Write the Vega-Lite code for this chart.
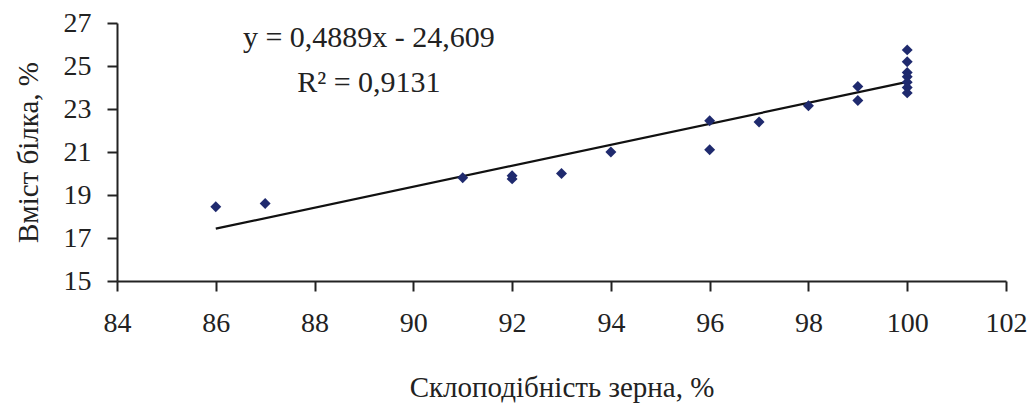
{
  "$schema": "https://vega.github.io/schema/vega-lite/v6.json",
  "autosize": "none",
  "width": 889,
  "height": 258,
  "padding": {"left": 117, "top": 23, "right": 26, "bottom": 124},
  "background": "white",
  "config": {
    "view": {"stroke": null},
    "font": "Liberation Serif",
    "axis": {
      "grid": false,
      "domainColor": "#222222",
      "domainWidth": 2,
      "tickColor": "#222222",
      "tickWidth": 2,
      "tickSize": 10,
      "labelFont": "Liberation Serif",
      "labelFontSize": 28,
      "labelColor": "#222222",
      "labelFlush": false,
      "titleFont": "Liberation Serif",
      "titleFontSize": 29,
      "titleFontWeight": "normal",
      "titleColor": "#222222"
    }
  },
  "datasets": {
    "points": [
      {"vitreous": 86, "protein": 18.45},
      {"vitreous": 87, "protein": 18.6},
      {"vitreous": 91, "protein": 19.8},
      {"vitreous": 92, "protein": 19.9},
      {"vitreous": 92, "protein": 19.75},
      {"vitreous": 93, "protein": 20.0},
      {"vitreous": 94, "protein": 21.0},
      {"vitreous": 96, "protein": 22.45},
      {"vitreous": 96, "protein": 21.1},
      {"vitreous": 97, "protein": 22.4},
      {"vitreous": 98, "protein": 23.15},
      {"vitreous": 99, "protein": 24.05},
      {"vitreous": 99, "protein": 23.4},
      {"vitreous": 100, "protein": 25.75},
      {"vitreous": 100, "protein": 25.2},
      {"vitreous": 100, "protein": 24.7},
      {"vitreous": 100, "protein": 24.5},
      {"vitreous": 100, "protein": 24.25},
      {"vitreous": 100, "protein": 24.0},
      {"vitreous": 100, "protein": 23.75}
    ],
    "labels": [
      {"x": 89.1, "y": 26.3, "text": "y = 0,4889x - 24,609"},
      {"x": 89.1, "y": 24.2, "text": "R² = 0,9131"}
    ]
  },
  "layer": [
    {
      "data": {"name": "points"},
      "transform": [{"regression": "protein", "on": "vitreous", "extent": [86, 100]}],
      "mark": {"type": "line", "color": "#111111", "strokeWidth": 2.2},
      "encoding": {
        "x": {"field": "vitreous", "type": "quantitative"},
        "y": {"field": "protein", "type": "quantitative"}
      }
    },
    {
      "data": {"name": "points"},
      "mark": {"type": "point", "shape": "diamond", "filled": true, "color": "#1f2a6e", "size": 120, "opacity": 1},
      "encoding": {
        "x": {
          "field": "vitreous", "type": "quantitative",
          "scale": {"domain": [84, 102], "nice": false, "zero": false},
          "axis": {"values": [84, 86, 88, 90, 92, 94, 96, 98, 100, 102], "title": "Склоподібність зерна, %", "titlePadding": 36, "labelPadding": 18}
        },
        "y": {
          "field": "protein", "type": "quantitative",
          "scale": {"domain": [15, 27], "nice": false, "zero": false},
          "axis": {"values": [15, 17, 19, 21, 23, 25, 27], "title": "Вміст білка, %", "titlePadding": 20, "labelPadding": 16}
        }
      }
    },
    {
      "data": {"name": "labels"},
      "mark": {"type": "text", "font": "Liberation Serif", "fontSize": 30, "color": "#222222", "align": "center", "baseline": "middle"},
      "encoding": {
        "x": {"field": "x", "type": "quantitative"},
        "y": {"field": "y", "type": "quantitative"},
        "text": {"field": "text"}
      }
    }
  ]
}
